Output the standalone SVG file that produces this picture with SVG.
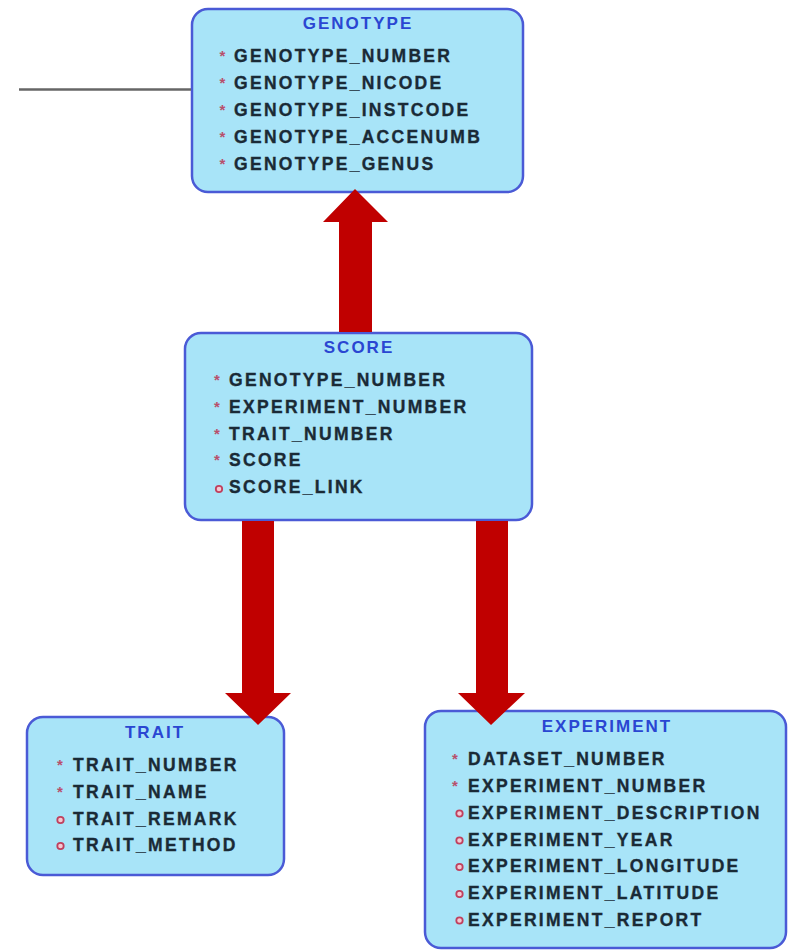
<svg xmlns="http://www.w3.org/2000/svg" width="788" height="950" viewBox="0 0 788 950">
<style>
.box{fill:#a8e4f8;stroke:#4a5ad6;stroke-width:2.5}
.title{font-family:"Liberation Sans",Arial,sans-serif;font-weight:bold;font-size:17px;fill:#2a46d2;letter-spacing:2px;text-anchor:middle}
.f{font-family:"Liberation Sans",Arial,sans-serif;font-weight:bold;font-size:17.5px;fill:#1a2a36;stroke:#1a2a36;stroke-width:0.35;letter-spacing:2.3px}
.st{font-family:"Liberation Sans",Arial,sans-serif;font-weight:bold;font-size:15px;fill:#b8506c;text-anchor:middle}
.o{fill:#f4c8d2;stroke:#c0405e;stroke-width:1.8}
.arr{fill:#c00000}
.ln{stroke:#666666;stroke-width:2.5;fill:none}
</style>
<rect width="788" height="950" fill="#ffffff"/>
<g id="GENOTYPE">
<rect class="box" x="192" y="9" width="331" height="183" rx="16"/>
<text class="title" x="358" y="29">GENOTYPE</text>
<text class="st" x="222.5" y="61">*</text><text class="f" x="234" y="62">GENOTYPE_NUMBER</text>
<text class="st" x="222.5" y="88">*</text><text class="f" x="234" y="89">GENOTYPE_NICODE</text>
<text class="st" x="222.5" y="115">*</text><text class="f" x="234" y="116">GENOTYPE_INSTCODE</text>
<text class="st" x="222.5" y="142">*</text><text class="f" x="234" y="143">GENOTYPE_ACCENUMB</text>
<text class="st" x="222.5" y="169">*</text><text class="f" x="234" y="170">GENOTYPE_GENUS</text>
</g>
<g id="SCORE">
<rect class="box" x="185" y="333" width="347" height="187" rx="16"/>
<text class="title" x="359" y="353">SCORE</text>
<text class="st" x="217" y="385">*</text><text class="f" x="229" y="386">GENOTYPE_NUMBER</text>
<text class="st" x="217" y="412">*</text><text class="f" x="229" y="413">EXPERIMENT_NUMBER</text>
<text class="st" x="217" y="439">*</text><text class="f" x="229" y="440">TRAIT_NUMBER</text>
<text class="st" x="217" y="465">*</text><text class="f" x="229" y="466">SCORE</text>
<circle class="o" cx="219" cy="489" r="3.2"/><text class="f" x="229" y="493">SCORE_LINK</text>
</g>
<g id="TRAIT">
<rect class="box" x="27" y="717" width="257" height="158" rx="16"/>
<text class="title" x="155" y="738">TRAIT</text>
<text class="st" x="60" y="770">*</text><text class="f" x="73" y="771">TRAIT_NUMBER</text>
<text class="st" x="60" y="797">*</text><text class="f" x="73" y="798">TRAIT_NAME</text>
<circle class="o" cx="60.5" cy="820" r="3.2"/><text class="f" x="73" y="825">TRAIT_REMARK</text>
<circle class="o" cx="60.5" cy="846" r="3.2"/><text class="f" x="73" y="851">TRAIT_METHOD</text>
</g>
<g id="EXPERIMENT">
<rect class="box" x="425" y="711" width="361" height="237" rx="16"/>
<text class="title" x="607" y="732">EXPERIMENT</text>
<text class="st" x="455" y="764">*</text><text class="f" x="468" y="765">DATASET_NUMBER</text>
<text class="st" x="455" y="791">*</text><text class="f" x="468" y="792">EXPERIMENT_NUMBER</text>
<circle class="o" cx="459.5" cy="813.5" r="3.2"/><text class="f" x="468" y="818.5">EXPERIMENT_DESCRIPTION</text>
<circle class="o" cx="459.5" cy="840.5" r="3.2"/><text class="f" x="468" y="845.5">EXPERIMENT_YEAR</text>
<circle class="o" cx="459.5" cy="867" r="3.2"/><text class="f" x="468" y="872">EXPERIMENT_LONGITUDE</text>
<circle class="o" cx="459.5" cy="894" r="3.2"/><text class="f" x="468" y="899">EXPERIMENT_LATITUDE</text>
<circle class="o" cx="459.5" cy="920.5" r="3.2"/><text class="f" x="468" y="925.5">EXPERIMENT_REPORT</text>
</g>
<g id="connectors">
<line class="ln" x1="19" y1="89.5" x2="191" y2="89.5"/>
<polygon class="arr" points="355,189 388,222 372,222 372,332 339,332 339,222 323,222"/>
<polygon class="arr" points="242,521 274,521 274,693 291,693 258,725 225,693 242,693"/>
<polygon class="arr" points="476,521 508,521 508,693 525,693 491,725 458,693 476,693"/>
</g>
</svg>
